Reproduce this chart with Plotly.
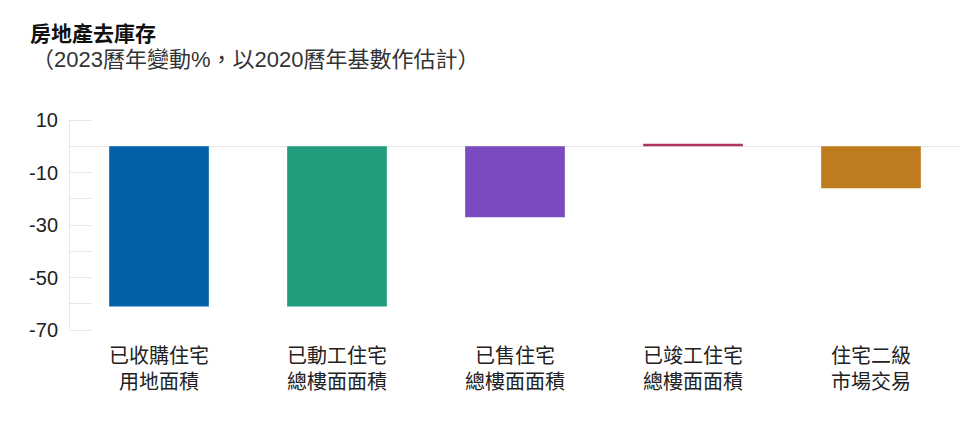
#!/usr/bin/env python3
# -*- coding: utf-8 -*-

import plotly.graph_objects as go

# data
CATEGORIES = [
    "已收購住宅<br>用地面積",
    "已動工住宅<br>總樓面面積",
    "已售住宅<br>總樓面面積",
    "已竣工住宅<br>總樓面面積",
    "住宅二級<br>市場交易",
]
CHANGE_PCT = [-61, -61, -27, 1, -16]
BAR_COLORS = ["#0061A8", "#209D7D", "#7A4BBE", "#B03462", "#BE7C1F"]
Y_TICK_VALUES = [10, 0, -10, -20, -30, -40, -50, -60, -70]
Y_TICK_LABELS = ["10", "", "-10", "", "-30", "", "-50", "", "-70"]
Y_RANGE = [-70, 10]

TITLE = "房地產去庫存"
SUBTITLE = "（2023曆年變動%，以2020曆年基數作估計）"

FONT = "Liberation Sans, Noto Sans CJK TC, sans-serif"
GRID = "#e6e6e6"

fig = go.Figure()

fig.add_trace(
    go.Bar(
        x=CATEGORIES,
        y=CHANGE_PCT,
        marker={"color": BAR_COLORS, "line": {"width": 0}},
        showlegend=False
    )
)

# invisible twin so the tick-stub axis (y2) gets drawn
fig.add_trace(
    go.Scatter(
        x=CATEGORIES,
        y=CHANGE_PCT,
        yaxis="y2",
        mode="markers",
        marker={"opacity": 0},
        hoverinfo="skip",
        showlegend=False
    )
)

fig.update_layout(
    width=960,
    height=429,
    margin={"l": 70, "r": 0, "t": 120, "b": 99},
    paper_bgcolor="white",
    plot_bgcolor="white",
    bargap=0.44,
    font={"family": FONT, "size": 20, "color": "#222222"},
)

fig.update_xaxes(
    automargin=False,
    showgrid=False,
    showline=False,
    ticks="",
    ticklabelstandoff=12,
    tickfont={"family": "Noto Sans CJK TC", "size": 20, "color": "#222222"},
)

# labels + axis line + zero line
fig.update_yaxes(
    automargin=False,
    range=Y_RANGE,
    tickvals=Y_TICK_VALUES,
    ticktext=Y_TICK_LABELS,
    ticks="",
    ticklabelstandoff=7,
    showgrid=False,
    showline=True,
    linecolor=GRID,
    linewidth=1,
    zeroline=True,
    zerolinecolor=GRID,
    zerolinewidth=1,
    tickfont={"size": 20, "color": "#222222"},
)

# short tick stubs reaching into the plot: a free overlay axis
# whose outside ticks point back to the main axis line
fig.update_layout(
    yaxis2={
        "overlaying": "y",
        "anchor": "free",
        "side": "left",
        "position": 22 / 890,
        "range": Y_RANGE,
        "tickvals": Y_TICK_VALUES,
        "showticklabels": False,
        "ticks": "outside",
        "ticklen": 22,
        "tickcolor": GRID,
        "tickwidth": 1,
        "showline": False,
        "showgrid": False,
        "zeroline": False,
        "automargin": False,
    }
)

# title + subtitle
fig.add_annotation(
    text="<b>" + TITLE + "</b>",
    xref="paper", yref="paper",
    x=-42 / 890, y=(330 - 32) / 210,
    xanchor="left", yanchor="middle",
    showarrow=False,
    font={"family": "Noto Sans CJK TC", "size": 21, "color": "#111111"},
)
fig.add_annotation(
    text=SUBTITLE,
    xref="paper", yref="paper",
    x=-40 / 890, y=(330 - 60) / 210,
    xanchor="left", yanchor="middle",
    showarrow=False,
    font={"family": FONT, "size": 22, "color": "#333333"},
)

# drop the default page margin so the figure sits at the window's corner
fig.write_html(
    "out.html",
    config={"displayModeBar": False},
    post_script="document.body.style.margin='0';"
)
